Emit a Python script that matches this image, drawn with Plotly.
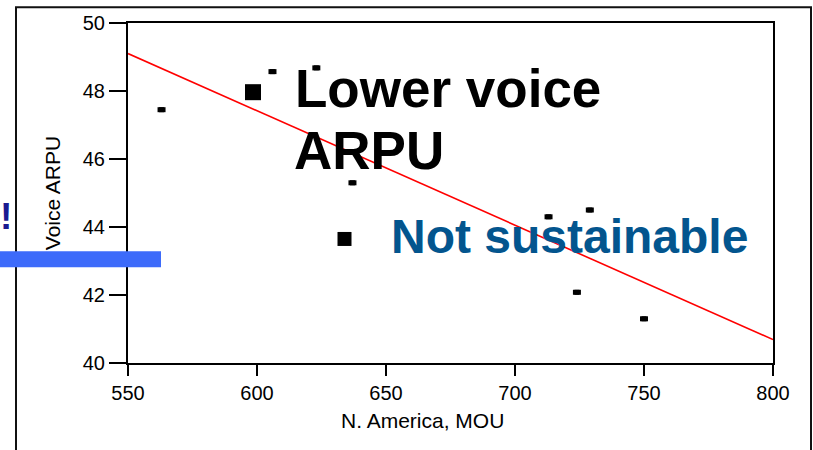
import plotly.graph_objects as go

# ---- data ----
mou = [563, 606, 623, 637, 713, 729, 724, 750]
voice_arpu = [47.45, 48.57, 48.68, 45.3, 44.3, 44.5, 42.08, 41.3]
trend_x = [550, 800]
trend_y = [49.1, 40.69]
x_ticks = [550, 600, 650, 700, 750, 800]
y_ticks = [40, 42, 44, 46, 48, 50]

W, H = 813, 450
L, R, T, B = 128, 40, 19, 87
PW, PH = W - L - R, H - T - B
X_PER_PX = (800 - 550) / PW

def px(xp):
    return (xp - L) / PW

def py(yp):
    return (H - B - yp) / PH

FONT = "Arial, Liberation Sans, sans-serif"

fig = go.Figure()
fig.add_trace(go.Scatter(
    x=trend_x, y=trend_y, mode="lines",
    line=dict(color="#ff0000", width=1.6), showlegend=False, hoverinfo="skip"))
# small rectangular markers (8x5 px): square core + thick horizontal error bar
fig.add_trace(go.Scatter(
    x=mou, y=voice_arpu, mode="markers",
    marker=dict(symbol="square", size=5, color="black", line=dict(width=0)),
    error_x=dict(type="constant", value=4 * X_PER_PX, thickness=5, width=0, color="black"),
    showlegend=False))

axis_common = dict(showline=True, linecolor="black", linewidth=2, mirror=True,
                   ticks="outside", tickcolor="black", tickwidth=2,
                   showgrid=False, zeroline=False,
                   tickfont=dict(family=FONT, size=20, color="black"))
fig.update_xaxes(range=[550, 800], tickvals=x_ticks, ticklen=11, **axis_common)
fig.update_yaxes(range=[40, 50], tickvals=y_ticks, ticklen=17,
                 title=dict(text="Voice ARPU", font=dict(family=FONT, size=21, color="black"),
                            standoff=16),
                 **axis_common)

shapes = [
    # outer slide frame
    dict(type="rect", xref="paper", yref="paper", x0=px(16), x1=px(811), y0=py(452), y1=py(3),
         line=dict(color="#111", width=2), layer="below"),
    # blue bar
    dict(type="rect", xref="paper", yref="paper", x0=px(0), x1=px(161), y0=py(266), y1=py(250),
         line=dict(width=0), fillcolor="#3d6bfa", layer="above"),
    # bullets
    dict(type="rect", xref="paper", yref="paper", xsizemode="pixel", ysizemode="pixel",
         xanchor=px(253), yanchor=py(89), x0=-8, x1=8, y0=-8, y1=8,
         fillcolor="black", line=dict(width=0)),
    dict(type="rect", xref="paper", yref="paper", xsizemode="pixel", ysizemode="pixel",
         xanchor=px(344.5), yanchor=py(237.5), x0=-7, x1=7, y0=-7, y1=7,
         fillcolor="black", line=dict(width=0)),
]

annotations = [
    dict(text="N. America, MOU", xref="paper", yref="paper", x=px(422), y=py(421),
         xanchor="center", yanchor="middle", showarrow=False,
         font=dict(family=FONT, size=21, color="black")),
    dict(text="<b>Lower voice</b>", xref="paper", yref="paper", x=px(293), y=py(85),
         xanchor="left", yanchor="middle", showarrow=False,
         font=dict(family=FONT, size=53, color="black")),
    dict(text="<b>ARPU</b>", xref="paper", yref="paper", x=px(292), y=py(148),
         xanchor="left", yanchor="middle", showarrow=False,
         font=dict(family=FONT, size=53, color="black")),
    dict(text="<b>Not sustainable</b>", xref="paper", yref="paper", x=px(389), y=py(235),
         xanchor="left", yanchor="middle", showarrow=False,
         font=dict(family=FONT, size=48, color="#03558e")),
    dict(text="<b>!</b>", xref="paper", yref="paper", x=px(-2), y=py(214.5),
         xanchor="left", yanchor="middle", showarrow=False,
         font=dict(family=FONT, size=37, color="#1a1a90")),
]

fig.update_layout(
    width=W, height=H, autosize=False,
    margin=dict(l=L, r=R, t=T, b=B, pad=0),
    paper_bgcolor="white", plot_bgcolor="white",
    shapes=shapes, annotations=annotations,
    font=dict(family=FONT),
)
fig.write_html("out.html")
